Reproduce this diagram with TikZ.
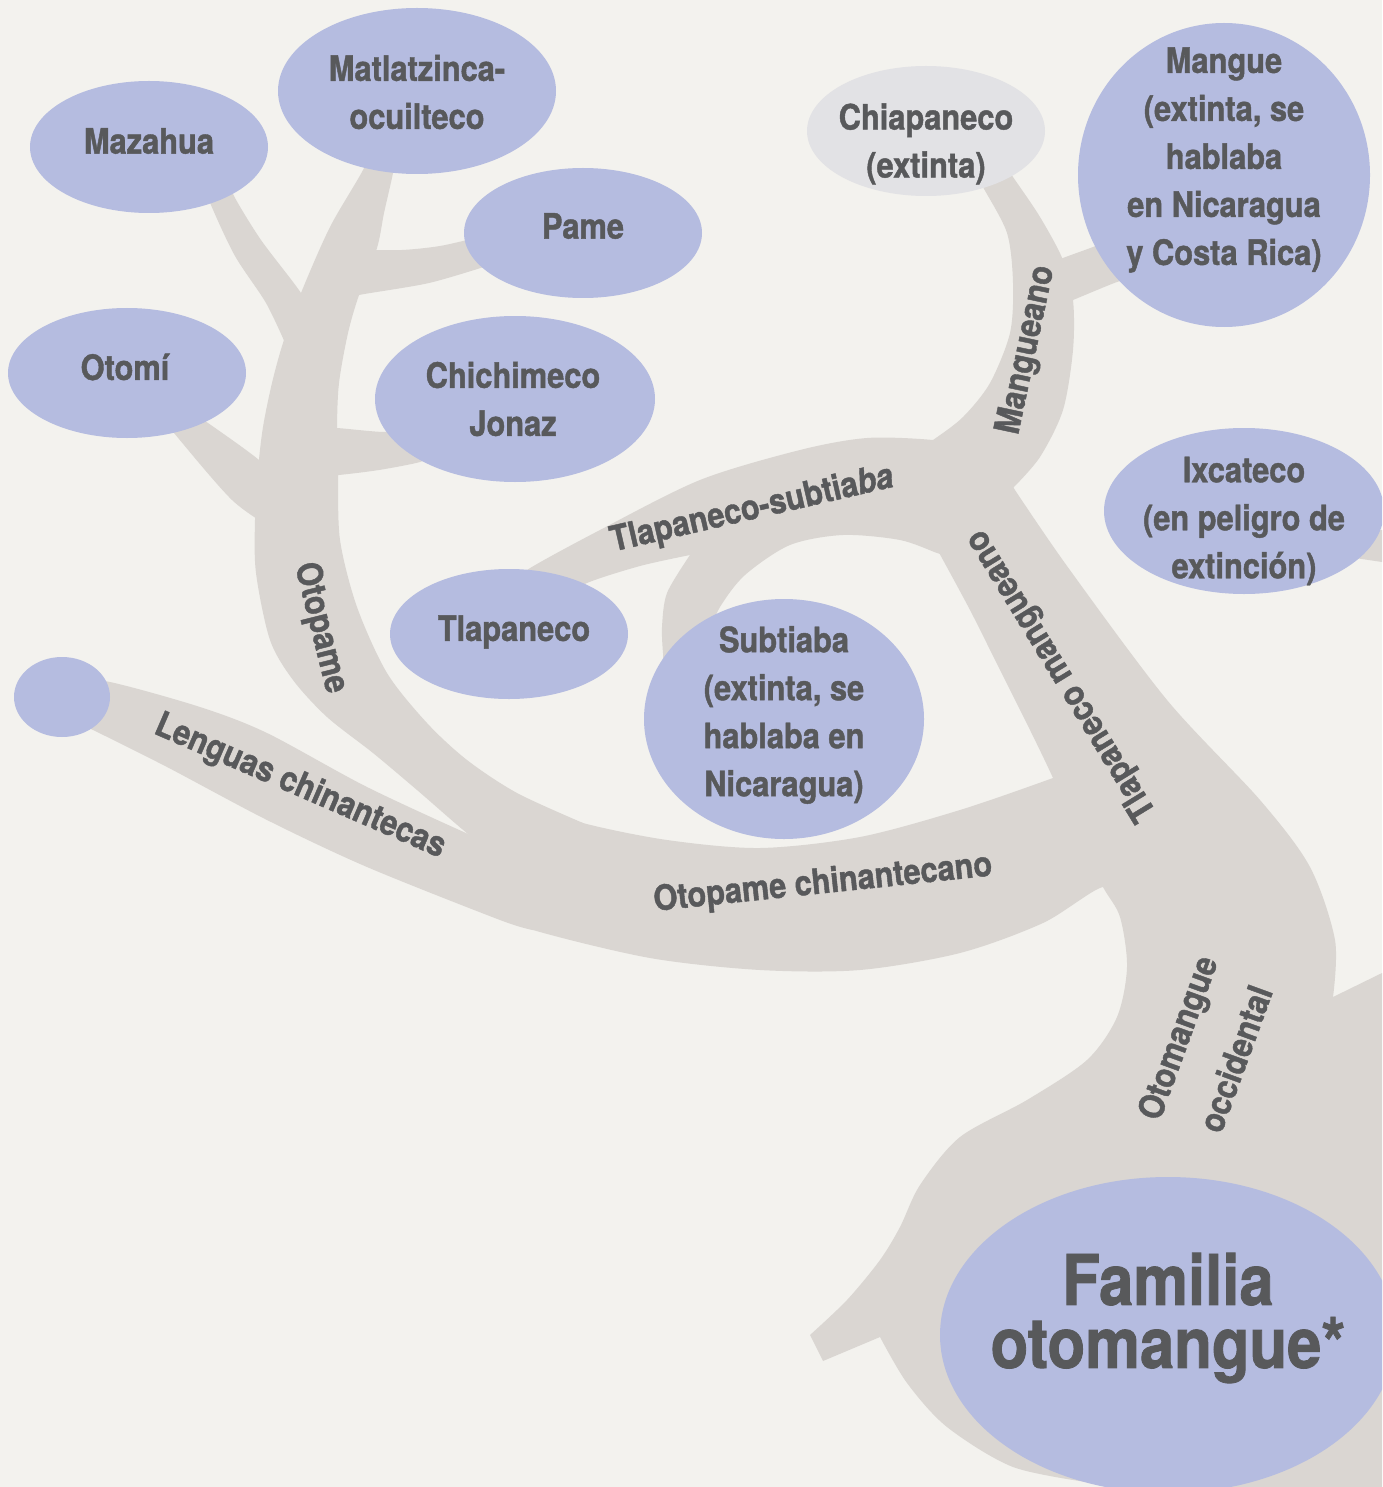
\documentclass[tikz,border=0pt]{standalone}
\usepackage{fontspec}
\setmainfont{TeX Gyre Heros}[FakeStretch=0.88,FakeBold=1.2]
\usetikzlibrary{shapes.geometric}
\definecolor{bgc}{HTML}{F3F2EE}
\definecolor{brc}{HTML}{DAD6D2}
\definecolor{blc}{HTML}{B5BCE0}
\definecolor{chc}{HTML}{E2E2E5}
\definecolor{txc}{HTML}{58595B}
\begin{document}
\begin{tikzpicture}[x=1pt,y=-1pt,
  branch/.style={fill=brc},
  blob/.style={ellipse,fill=blc,draw=none,inner sep=0pt},
  greyblob/.style={ellipse,fill=chc,draw=none,inner sep=0pt},
  txt/.style={text=txc,font=\fontsize{35}{48}\selectfont\bfseries,align=center,inner sep=0pt},
  lbl/.style={text=txc,font=\fontsize{35}{42}\selectfont\bfseries,align=center,inner sep=0pt},
  bigtxt/.style={text=txc,font=\fontsize{70}{63}\selectfont\bfseries,align=center,inner sep=0pt}]
\useasboundingbox (0,0) rectangle (1382,1487);
\clip (0,0) rectangle (1382,1487);
\fill[bgc] (0,0) rectangle (1382,1487);

% ---- branches ----
% Mazahua
\fill[branch] plot[smooth] coordinates {(203,180) (211,205) (235,256) (266,303) (286,345)}
  -- plot[smooth] coordinates {(325,335) (301,293) (261,240) (234,196) (230,180)} -- cycle;
% upper trunk + Otopame
\fill[branch] plot[smooth] coordinates {(366,150) (364,168) (330,227) (301,293) (283,343) (272,383) (263,427) (258,470) (255,520) (256,573) (270,640) (293,680) (327,717) (373,753) (417,790) (473,838) (520,870)}
  -- plot[smooth] coordinates {(583,823) (517,793) (467,760) (427,723) (387,673) (357,607) (340,540) (338,473) (337,428) (339,383) (348,333) (359,295) (377,248) (384,213) (393,173) (396,150)} -- cycle;
% Pame
\fill[branch] plot[smooth] coordinates {(360,250) (402,250) (440,246) (475,238)}
  -- plot[smooth] coordinates {(490,265) (429,283) (359,295) (345,300)} -- cycle;
% Otomi
\fill[branch] plot[smooth] coordinates {(195,415) (208,423) (259,460) (285,488)}
  -- plot[smooth] coordinates {(275,530) (232,500) (174,433) (165,420)} -- cycle;
% Chichimeco
\fill[branch] plot[smooth] coordinates {(320,428) (337,428) (384,432) (400,428)}
  -- plot[smooth] coordinates {(430,455) (420,462) (379,470) (339,475) (320,476)} -- cycle;
% Lenguas chinantecas
\fill[branch] plot[smooth] coordinates {(70,680) (110,682) (200,707) (267,733) (367,787) (477,838) (540,865)}
  -- plot[smooth] coordinates {(533,930) (500,920) (367,867) (267,820) (167,767) (93,730) (70,720)} -- cycle;
% Otopame chinantecano
\fill[branch] plot[smooth] coordinates {(540,805) (583,823) (667,840) (760,848) (860,837) (960,810) (1053,778) (1085,765)}
  -- plot[smooth] coordinates {(1125,905) (1103,887) (1043,923) (960,953) (860,970) (760,970) (650,958) (533,930) (470,905)} -- cycle;
% trunk
\fill[branch] plot[smooth] coordinates {(937,549) (970,610) (1000,670) (1030,730) (1053,778) (1080,840) (1103,887) (1120,917) (1127,967) (1117,1017) (1087,1060) (1027,1100) (960,1137) (920,1185) (900,1227) (880,1260) (847,1300) (810,1335)}
  -- (823,1361)
  -- plot[smooth] coordinates {(880,1337) (907,1383) (947,1427) (1013,1467) (1093,1483)}
  -- (1150,1487) -- (1382,1487) -- (1382,973)
  -- plot[smooth] coordinates {(1333,997) (1335,940) (1310,867) (1260,800) (1167,700) (1067,566) (1013,487)}
  -- (975,480) -- cycle;
% Tlapaneco-subtiaba
\fill[branch] plot[smooth] coordinates {(515,585) (527,570) (600,530) (700,480) (800,450) (867,438) (933,440) (975,448)}
  -- (1000,520)
  -- plot[smooth] coordinates {(950,557) (937,553) (900,540) (843,535) (790,545) (745,575) (720,607) (705,640)}
  -- (663,660)
  -- plot[smooth] coordinates {(663,653) (662,627) (667,593) (690,555)}
  -- plot[smooth] coordinates {(690,555) (640,566) (587,583) (560,600)} -- cycle;
% Mangueano
\fill[branch] plot[smooth] coordinates {(975,170) (983,187) (1007,233) (1013,283) (1010,333) (990,383) (963,417) (933,440) (905,458)}
  -- (990,510)
  -- plot[smooth] coordinates {(1013,488) (1040,457) (1063,410) (1073,350) (1073,300) (1063,260) (1040,217) (1013,177) (1005,165)} -- cycle;
% Mangue
\fill[branch] plot[smooth] coordinates {(1050,264) (1063,258) (1093,247) (1115,238)}
  -- plot[smooth] coordinates {(1130,280) (1117,282) (1073,300) (1060,305)} -- cycle;
% Ixcateco
\fill[branch] (1350,535) -- (1382,530) -- (1382,562) -- (1355,558) -- cycle;

% ---- nodes ----
\node[blob,minimum width=238pt,minimum height=132pt] (mazahua) at (149,147) {};
\node[blob,minimum width=278pt,minimum height=166pt] (matl) at (417,91) {};
\node[blob,minimum width=238pt,minimum height=130pt] (pame) at (583,233) {};
\node[blob,minimum width=238pt,minimum height=130pt] (otomi) at (127,373) {};
\node[blob,minimum width=280pt,minimum height=166pt] (chichi) at (515,399) {};
\node[blob,minimum width=238pt,minimum height=130pt] (tlapa) at (509,634) {};
\node[blob,minimum width=280pt,minimum height=240pt] (subt) at (784,719) {};
\node[blob,minimum width=96pt,minimum height=80pt] (chinan) at (62,697) {};
\node[greyblob,minimum width=238pt,minimum height=130pt] (chiapa) at (926,131) {};
\node[blob,minimum width=292pt,minimum height=304pt] (mangue) at (1224,175) {};
\node[blob,minimum width=280pt,minimum height=166pt] (ixca) at (1244,511) {};
\node[blob,minimum width=456pt,minimum height=316pt] (familia) at (1168,1335) {};

\node[txt] (mazahuaT) at (149,141) {Mazahua};
\node[txt] (matlT) at (417,92) {Matlatzinca-\\ocuilteco};
\node[txt] (pameT) at (583,226) {Pame};
\node[txt] (otomiT) at (125,367) {Otomí};
\node[txt] (chichiT) at (513,399) {Chichimeco\\Jonaz};
\node[txt] (tlapaT) at (514,632) {Tlapaneco};
\node[txt] (subtT) at (784,715) {Subtiaba\\(extinta, se\\hablaba en\\Nicaragua)};
\node[txt] (chiapaT) at (926,144) {Chiapaneco\\(extinta)};
\node[txt] (mangueT) at (1224,160) {Mangue\\(extinta, se\\hablaba\\en Nicaragua\\y Costa Rica)};
\node[txt] (ixcaT) at (1244,521) {Ixcateco\\(en peligro de\\extinción)};
\node[bigtxt] (familiaT) at (1168,1318) {Familia\\otomangue*};

% ---- branch labels ----
\node[lbl,rotate=-76] (otopameL) at (320,628) {Otopame};
\node[lbl,rotate=-23.5] (lenguasL) at (300,787) {Lenguas chinantecas};
\node[lbl,rotate=6] (ocL) at (823,884) {Otopame chinantecano};
\node[lbl,rotate=13] (tsL) at (752,510) {Tlapaneco-subtia\textit{ba}};
\node[lbl,rotate=78] (mgL) at (1027,350) {Mangueano};
\node[lbl,rotate=121.5] (tmL) at (1062,675) {Tlapaneco mangueano};
\node[lbl,rotate=70,font=\fontsize{35}{62}\selectfont\bfseries] (omL) at (1206,1048) {Otomangue\\occidental};
\end{tikzpicture}
\end{document}
